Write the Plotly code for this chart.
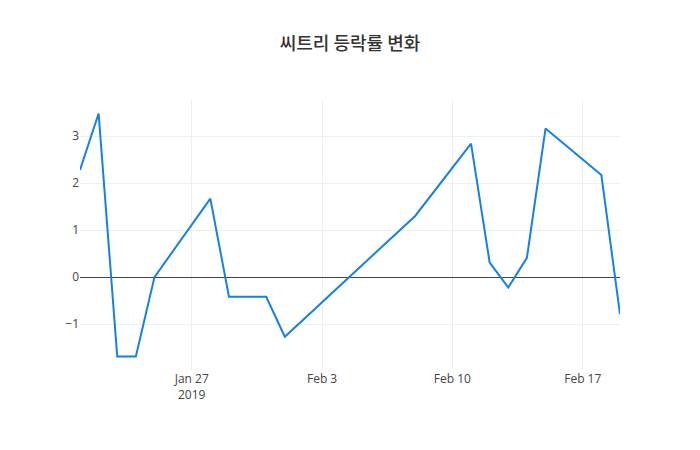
import plotly.graph_objects as go

dates = ["2019-01-21", "2019-01-22", "2019-01-23", "2019-01-24", "2019-01-25",
         "2019-01-28", "2019-01-29", "2019-01-31", "2019-02-01", "2019-02-08",
         "2019-02-11", "2019-02-12", "2019-02-13", "2019-02-14", "2019-02-15",
         "2019-02-18", "2019-02-19"]
changes = [2.28, 3.48, -1.69, -1.69, 0.0,
           1.67, -0.42, -0.42, -1.27, 1.30,
           2.84, 0.31, -0.22, 0.41, 3.16,
           2.17, -0.79]
title_text = "씨트리 등락률 변화"

fig = go.Figure(go.Scatter(x=dates, y=changes, mode="lines",
                           line=dict(color="rgb(22,128,230)", width=2)))
fig.update_layout(
    template=None,
    width=700, height=450,
    title=dict(text=title_text, x=0.5, xanchor="center",
               font=dict(family="Noto Sans CJK KR", size=18, color="#333", weight=500)),
    paper_bgcolor="white", plot_bgcolor="white",
    font=dict(family="Open Sans", size=12, color="#444"),
    xaxis=dict(gridcolor="#eee", showgrid=True),
    yaxis=dict(gridcolor="#eee", showgrid=True, zeroline=True, zerolinecolor="#444", zerolinewidth=1),
)
fig.write_html("out.html")
